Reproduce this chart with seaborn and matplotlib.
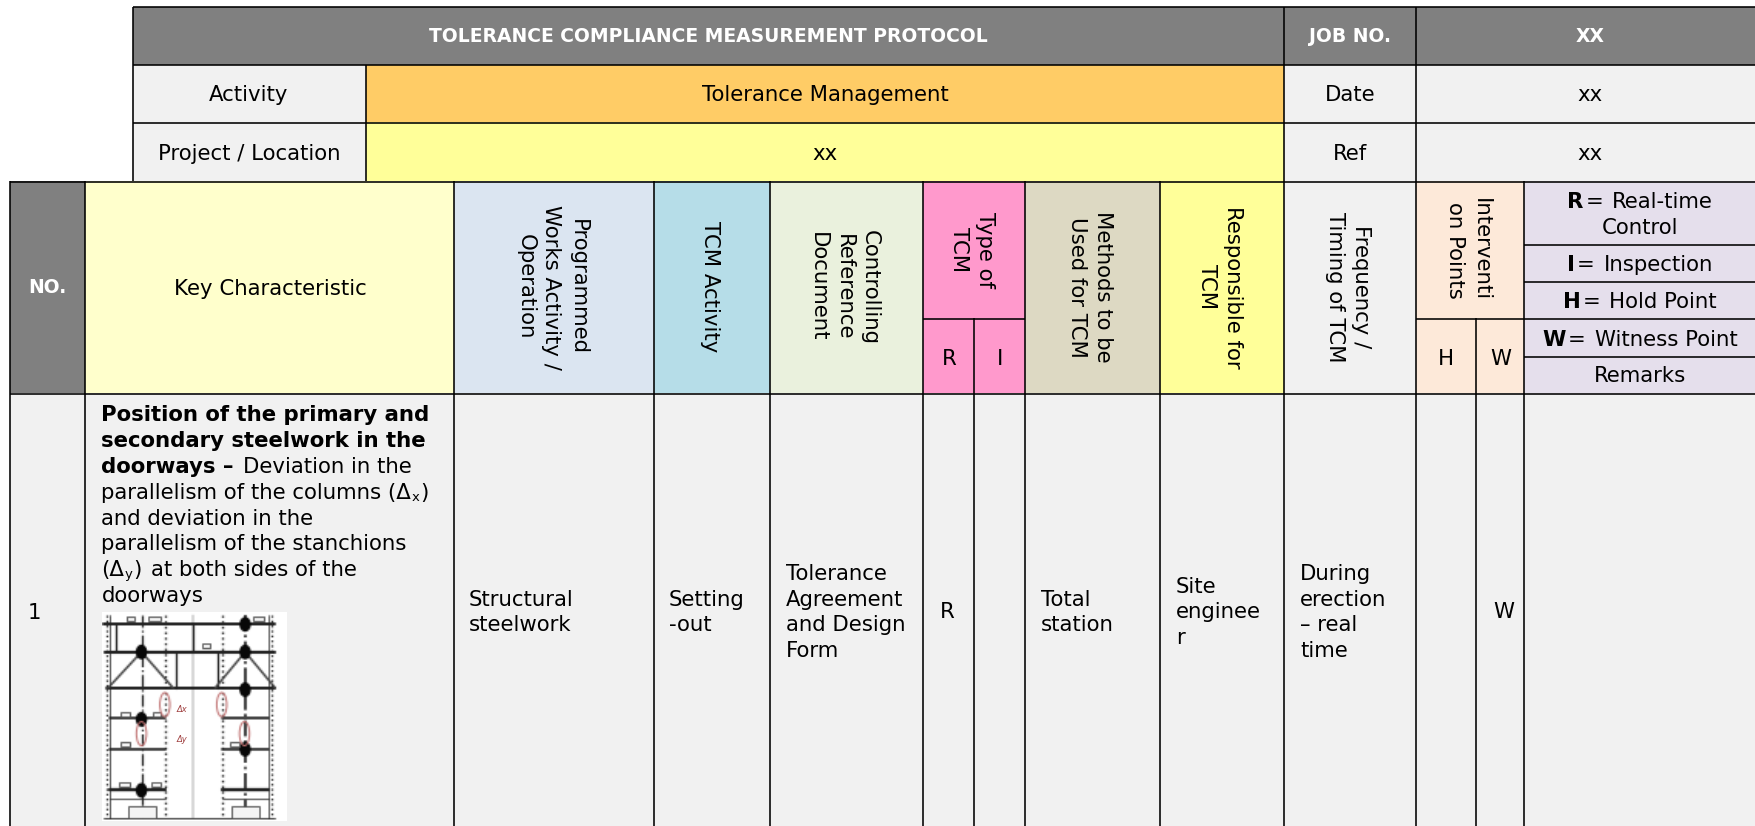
import numpy as np
import matplotlib
matplotlib.use("Agg")
import matplotlib.pyplot as plt
from matplotlib.colors import ListedColormap
from matplotlib.figure import Figure
from matplotlib.backends.backend_agg import FigureCanvasAgg
from matplotlib.patches import Ellipse, Rectangle
import seaborn as sns

# ---------- content ----------
title = "TOLERANCE COMPLIANCE MEASUREMENT PROTOCOL"
job_label = "JOB NO."
job_value = "XX"
meta_labels = ["Activity", "Project / Location"]
meta_values = ["Tolerance Management", "xx"]
side_labels = ["Date", "Ref"]
side_values = ["xx", "xx"]
no_label = "NO."
key_label = "Key Characteristic"
rotated_headers = [
    ["Programmed", "Works Activity /", "Operation"],
    ["TCM Activity"],
    ["Controlling", "Reference", "Document"],
    ["Type of", "TCM"],
    ["Methods to be", "Used for TCM"],
    ["Responsible for", "TCM"],
    ["Frequency /", "Timing of TCM"],
    ["Interventi", "on Points"],
]
sub_headers = ["R", "I", "H", "W"]
legend_rows = [
    [("R", True), ("=", False), ("Real-time", False)],
    [("Control", False)],
    [("I", True), ("=", False), ("Inspection", False)],
    [("H", True), ("=", False), ("Hold Point", False)],
    [("W", True), ("=", False), ("Witness Point", False)],
    [("Remarks", False)],
]
row_number = "1"
row_lead = [
    [("Position of the primary and", True)],
    [("secondary steelwork in the", True)],
    [("doorways \u2013", True), ("Deviation in the", False)],
    [("parallelism of the columns (\u0394", False), ("x", "sub"), (")", False)],
    [("and deviation in the", False)],
    [("parallelism of the stanchions", False)],
    [("(\u0394", False), ("y", "sub"), (")", False), ("at both sides of the", False)],
    [("doorways", False)],
]
row_cells = [
    ["Structural", "steelwork"],
    ["Setting", "-out"],
    ["Tolerance", "Agreement", "and Design", "Form"],
    ["R"],
    ["Total", "station"],
    ["Site", "enginee", "r"],
    ["During", "erection", "\u2013 real", "time"],
    ["W"],
]

# ---------- layout (pixels of the 1755x826 canvas) ----------
W, H = 1755, 826
x_edges = [0, 10, 85, 133, 366, 454, 654, 770, 923, 975, 1025, 1160, 1284, 1416, 1476, 1524, 1755]
y_edges = [0, 7, 65, 122, 181, 244, 281, 318, 356, 393, 826]
palette = {
    "white": "#FFFFFF", "grey": "#808080", "light": "#F1F1F1", "orange": "#FFCC66",
    "yellow": "#FFFF99", "cream": "#FFFFCC", "blue": "#DBE5F1", "teal": "#B6DDE8",
    "green": "#EAF1DD", "pink": "#FF99CC", "tan": "#DDD9C3", "peach": "#FDE9D9",
    "lav": "#E5DFEC",
}
fills = [
    (133, 1284, 7, 65, "grey"), (1284, 1755, 7, 65, "grey"),
    (133, 366, 65, 181, "light"), (366, 1284, 65, 122, "orange"),
    (366, 1284, 122, 181, "yellow"), (1284, 1755, 65, 181, "light"),
    (10, 85, 181, 393, "grey"), (85, 454, 181, 393, "cream"),
    (454, 654, 181, 393, "blue"), (654, 770, 181, 393, "teal"),
    (770, 923, 181, 393, "green"), (923, 1025, 181, 393, "pink"),
    (1025, 1160, 181, 393, "tan"), (1160, 1284, 181, 393, "yellow"),
    (1284, 1416, 181, 393, "light"), (1416, 1524, 181, 393, "peach"),
    (1524, 1755, 181, 393, "lav"), (10, 1755, 393, 826, "light"),
]
h_rules = [
    (7, 133, W), (65, 133, W), (122.5, 133, W), (181.5, 10, W), (393.5, 10, W),
    (318.5, 923, 1025), (318.5, 1416, 1524), (244.5, 1524, W),
    (281.5, 1524, W), (318.5, 1524, W), (356.5, 1524, W),
]
v_rules = [
    (10, 181, H), (85.5, 181, H), (133.5, 7, 181), (366, 65, 181), (454.5, 181, H),
    (654.5, 181, H), (770, 181, H), (923, 181, H), (974.5, 318, H), (1025.5, 181, H),
    (1160.5, 181, H), (1284.5, 7, H), (1416.5, 7, H), (1476.5, 318, H), (1524.5, 181, H),
]
FS = 15.35
FS_HEAD = 13.5
INK = "#000000"

sns.set_theme(style="white")
plt.rcParams["font.family"] = ["DejaVu Sans"]
fig = plt.figure(figsize=(W / 100, H / 100), dpi=100, facecolor="white")

# cell fills: a seaborn heatmap on the table's band grid, stretched to the bands' real widths
names = list(palette)
grid = np.zeros((len(y_edges) - 1, len(x_edges) - 1), dtype=int)
for x0, x1, y0, y1, c in fills:
    for r in range(grid.shape[0]):
        for k in range(grid.shape[1]):
            if x_edges[k] >= x0 and x_edges[k + 1] <= x1 and y_edges[r] >= y0 and y_edges[r + 1] <= y1:
                grid[r, k] = names.index(c)
ax = fig.add_axes([0, 0, 1, 1])
sns.heatmap(grid, cmap=ListedColormap([palette[n] for n in names]), vmin=-0.5,
            vmax=len(names) - 0.5, cbar=False, xticklabels=False, yticklabels=False, ax=ax)
ix, iy = np.arange(len(x_edges)), np.arange(len(y_edges))
ax.set_xscale("function", functions=(lambda v: np.interp(v, ix, x_edges), lambda v: np.interp(v, x_edges, ix)))
ax.set_yscale("function", functions=(lambda v: np.interp(v, iy, y_edges), lambda v: np.interp(v, y_edges, iy)))
ax.set_xlim(0, len(x_edges) - 1)
ax.set_ylim(len(y_edges) - 1, 0)
ax.axis("off")

# overlay in pixel coordinates for rules and text
ov = fig.add_axes([0, 0, 1, 1], facecolor="none")
ov.set_xlim(0, W)
ov.set_ylim(H, 0)
ov.axis("off")
for y, a, b in h_rules:
    ov.plot([a, b], [y, y], color=INK, lw=1.15, solid_capstyle="butt", zorder=3)
for x, a, b in v_rules:
    ov.plot([x, x], [a, b], color=INK, lw=1.15, solid_capstyle="butt", zorder=3)

renderer = fig.canvas.get_renderer()


def center(x, y, s, bold=False, color=INK, size=FS):
    ov.text(x, y, s, ha="center", va="baseline", color=color, fontsize=size,
            fontweight="bold" if bold else "normal", zorder=4)


def left(x, y, s, size=FS):
    ov.text(x, y, s, ha="left", va="baseline", color=INK, fontsize=size, zorder=4)


def segments(x, y, segs, centered=False):
    """Lay out mixed bold/regular runs along one baseline."""
    arts, cur = [], x
    for i, (s, style) in enumerate(segs):
        size = FS * 0.62 if style == "sub" else FS
        t = ov.text(cur, y + (2 if style == "sub" else 0), s, ha="left", va="baseline", color=INK,
                    fontsize=size, fontweight="bold" if style is True else "normal", zorder=4)
        w = t.get_window_extent(renderer).width
        nxt = segs[i + 1] if i + 1 < len(segs) else None
        gap = 2
        if nxt is not None and (len(nxt[0]) > 1 and nxt[1] is False and s not in ("(\u0394",)):
            gap = 9
        if style == "sub":
            gap = 1
        if s == "(\u0394" or s.endswith("\u0394"):
            gap = 0
        arts.append(t)
        cur += w + gap
    if centered:
        total = cur - gap - x
        for t in arts:
            t.set_x(t.get_position()[0] - total / 2)


def rotated(cx, cy, lines):
    n = len(lines)
    for i, s in enumerate(lines):
        bx = cx - 8 + ((n - 1) / 2 - i) * 26
        ov.text(bx, cy, s, rotation=-90, rotation_mode="anchor", ha="center", va="baseline",
                color=INK, fontsize=FS, zorder=4)


# top block
center(708, 42, title, bold=True, color="white", size=FS_HEAD)
center(1350, 42, job_label, bold=True, color="white", size=FS_HEAD)
center(1590, 42, job_value, bold=True, color="white", size=FS_HEAD)
for y, a, v, s, t in zip([101, 160], meta_labels, meta_values, side_labels, side_values):
    center(249, y, a)
    center(825, y, v)
    center(1350, y, s)
    center(1590, y, t)

# header row
center(47, 293, no_label, bold=True, color="white", size=FS_HEAD)
center(270, 295, key_label)
rot_centres = [(553.5, 287), (712, 287), (846, 287), (974, 250), (1092, 287), (1222, 287), (1350, 287), (1470, 250)]
for (cx, cy), lines in zip(rot_centres, rotated_headers):
    rotated(cx, cy, lines)
for x, s in zip([949, 1000, 1446, 1501], sub_headers):
    center(x, 365, s)
for y, segs in zip([208, 234, 271, 308, 346, 382], legend_rows):
    segments(1640, y, segs, centered=True)

# body row
left(28, 619, row_number)
for i, segs in enumerate(row_lead):
    segments(101.5, 421 + i * 25.9, segs)
cell_x = [469, 669, 786, 940, 1041, 1176, 1300, 1493]
for x, lines in zip(cell_x, row_cells):
    y0 = 618.5 - (len(lines) - 1) / 2 * 25.9
    for i, s in enumerate(lines):
        left(x, y0 + i * 25.9, s)

# thumbnail drawing, rendered small and enlarged so that it looks like a scanned picture
tf = Figure(figsize=(1.2, 1.4), dpi=100, facecolor="white")
FigureCanvasAgg(tf)
ta = tf.add_axes([0, 0, 1, 1])
ta.set_xlim(37, 590)
ta.set_ylim(662, 35)
ta.axis("off")
D = "#222222"
for y, a, b, lw in [(70, 40, 555, 1.4), (155, 45, 555, 1.5), (263, 50, 555, 1.4), (355, 58, 225, 1.2),
                    (355, 395, 535, 1.2), (445, 60, 225, 1.2), (445, 395, 535, 1.2), (568, 58, 225, 1.6),
                    (568, 398, 535, 1.6), (597, 58, 225, 0.5), (597, 398, 535, 0.5), (655, 40, 555, 0.6)]:
    ta.plot([a, b], [y, y], color=D, lw=lw)
for x, lw, ls in [(155, 0.9, "-."), (465, 1.2, "-."), (50, 0.9, ":"), (225, 1.0, ":"), (395, 1.0, ":"),
                  (545, 0.9, ":"), (60, 0.5, "-"), (535, 0.5, "-"), (310, 0.25, "-")]:
    ta.plot([x, x], [42, 655], color=D, lw=lw, ls=ls)
for x, a, b in [(78, 70, 150), (310, 70, 150), (258, 155, 263), (382, 155, 263)]:
    ta.plot([x, x], [a, b], color=D, lw=0.9)
for a, b, c, d in [(155, 155, 55, 263), (155, 155, 250, 263), (465, 155, 375, 263), (465, 155, 555, 263)]:
    ta.plot([a, c], [b, d], color="#444444", lw=1.0)
for a, b in [(465, 72), (155, 155), (465, 155), (465, 268), (155, 357), (465, 447), (155, 570)]:
    ta.add_patch(Ellipse((a, b), 28, 38, color="#080808", zorder=5))
for a, b, w, h in [(115, 615, 85, 40), (425, 615, 82, 40), (88, 545, 30, 15), (185, 545, 25, 15),
                   (90, 335, 30, 14), (188, 335, 22, 14), (90, 425, 30, 14), (420, 425, 25, 14),
                   (335, 128, 25, 14), (110, 48, 25, 15), (175, 48, 35, 15), (490, 48, 30, 15)]:
    ta.add_patch(Rectangle((a, b), w, h, fc="#F4F4F4", ec="#444444", lw=0.6, zorder=6))
for a, b in [(225, 313), (395, 313), (155, 400), (463, 400)]:
    ta.add_patch(Ellipse((a, b), 30, 72, fc="none", ec="#C07070", lw=0.7, zorder=6))
tf.canvas.draw()
thumb = np.asarray(tf.canvas.buffer_rgba())[:, :, :3]
ov.imshow(thumb, extent=(102.3, 286.7, 820.7, 611.7), interpolation="bilinear", aspect="auto", zorder=2)
ov.set_xlim(0, W)
ov.set_ylim(H, 0)
ov.text(182, 709, "\u0394x", color="#A04040", fontsize=6, style="italic", ha="center", va="center", zorder=5)
ov.text(182, 739, "\u0394y", color="#A04040", fontsize=6, style="italic", ha="center", va="center", zorder=5)

fig.savefig("out.png", dpi=100)
